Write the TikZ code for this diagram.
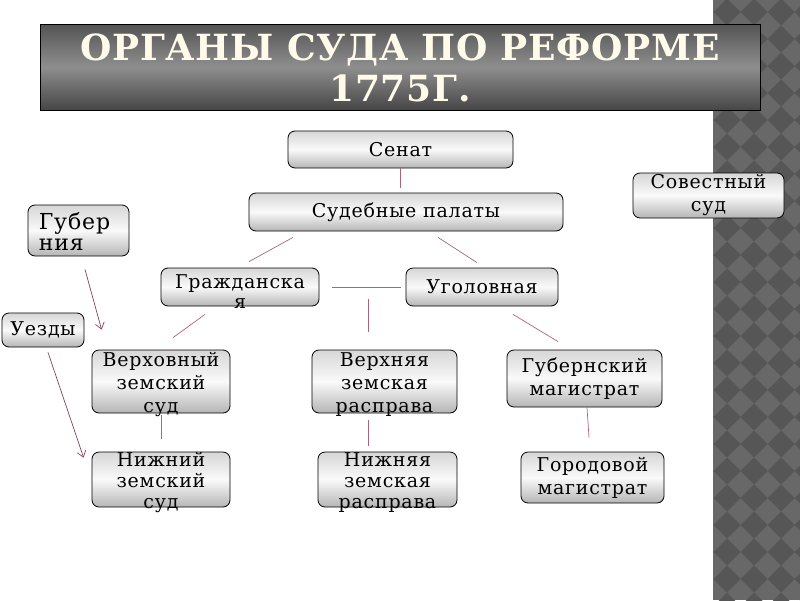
\documentclass[tikz,border=0pt]{standalone}
\usepackage{fontspec}
\setmainfont{DejaVu Serif}
\newfontfamily\boxfont[LetterSpace=4]{DejaVu Serif}
\newfontfamily\headfont[LetterSpace=2]{DejaVu Serif}
\usetikzlibrary{arrows.meta}

\definecolor{stripdark}{RGB}{86,86,86}
\definecolor{striplight}{RGB}{104,104,104}
\definecolor{headtop}{RGB}{84,84,84}
\definecolor{headmid}{RGB}{142,142,142}
\definecolor{headbot}{RGB}{70,70,70}
\definecolor{headink}{RGB}{255,250,234}
\definecolor{linkcol}{RGB}{170,100,125}
\definecolor{hintcol}{RGB}{128,66,98}

\begin{document}
\begin{tikzpicture}[x=1pt,y=-1pt,
  organ/.style={draw=black,line width=.8pt,rounded corners=7pt,
    top color=gray!32,bottom color=gray!58,middle color=gray!4},
  organtext/.style={font=\boxfont\fontsize{19}{23}\selectfont,
    align=center,inner sep=0pt},
  link/.style={draw=linkcol,line width=.7pt},
  hint/.style={draw=hintcol,line width=.7pt,
    -{Straight Barb[length=6pt,width=9pt]}}]
  \useasboundingbox (0,0) rectangle (800,600);

  %% right strip with diamonds
  \fill[striplight] (713,0) rectangle (800,600);
  \begin{scope}
    \clip (713,0) rectangle (800,600);
    \foreach \i in {-1,...,3}
      \foreach \j in {-1,...,22}
        \fill[stripdark] (727+27*\i,12+27*\j) +(-13.5,0) -- +(0,-13.5)
          -- +(13.5,0) -- +(0,13.5) -- cycle;
  \end{scope}

  %% title
  \node[draw=black,line width=1pt,minimum width=720pt,minimum height=86pt,
    top color=headtop,bottom color=headbot,middle color=headmid]
    (headbox) at (400,67) {};
  \node[font=\headfont\bfseries\fontsize{36}{41}\selectfont,text=headink,
    align=center,inner sep=0pt] (head) at ([yshift=-0.5pt]headbox)
    {ОРГАНЫ СУДА ПО РЕФОРМЕ\\1775Г.};

  %% top level
  \node[organ,minimum width=225pt,minimum height=37pt] (senat) at (400.5,149.5) {};
  \node[organtext] (senat-t) at (senat) {Сенат};
  \node[organ,minimum width=314pt,minimum height=38pt] (palaty) at (406,212) {};
  \node[organtext] (palaty-t) at (palaty) {Судебные палаты};
  \node[organ,minimum width=151pt,minimum height=45pt] (sovest) at (708.5,195.5) {};
  \node[organtext] (sovest-t) at (sovest) {Совестный\\суд};

  %% left labels
  \node[organ,minimum width=101pt,minimum height=51pt] (gub) at (78.5,230.5) {};
  \node[organtext,align=left,anchor=west,font=\boxfont\fontsize{22}{21}\selectfont]
    (gub-t) at ([xshift=11pt,yshift=-1pt]gub.west) {Губер\\ния};
  \node[organ,minimum width=82pt,minimum height=34pt] (uezd) at (43,330) {};
  \node[organtext] (uezd-t) at (uezd) {Уезды};

  %% second row
  \node[organ,minimum width=158pt,minimum height=38pt] (grazh) at (240,287) {};
  \node[organtext,font=\boxfont\fontsize{19}{20}\selectfont]
    (grazh-t) at ([yshift=-5pt]grazh) {Гражданска\\я};
  \node[organ,minimum width=152pt,minimum height=38pt] (ugol) at (482,287) {};
  \node[organtext] (ugol-t) at (ugol) {Уголовная};

  %% third row
  \node[organ,minimum width=138pt,minimum height=63pt] (verkhz) at (161,381.5) {};
  \node[organtext] (verkhz-t) at ([yshift=-3pt]verkhz) {Верховный\\земский\\суд};
  \node[organ,minimum width=145pt,minimum height=63pt] (verkhr) at (384.5,381.5) {};
  \node[organtext] (verkhr-t) at ([yshift=-3pt]verkhr) {Верхняя\\земская\\расправа};
  \node[organ,minimum width=155pt,minimum height=57pt] (gubm) at (584.5,378.5) {};
  \node[organtext] (gubm-t) at (gubm) {Губернский\\магистрат};

  %% bottom row
  \node[organ,minimum width=138pt,minimum height=55pt] (nizhz) at (161,479.5) {};
  \node[organtext,font=\boxfont\fontsize{19}{21}\selectfont]
    (nizhz-t) at ([yshift=-3pt]nizhz) {Нижний\\земский\\суд};
  \node[organ,minimum width=139pt,minimum height=55pt] (nizhr) at (387.5,479.5) {};
  \node[organtext,font=\boxfont\fontsize{19}{21}\selectfont]
    (nizhr-t) at ([yshift=-3pt]nizhr) {Нижняя\\земская\\расправа};
  \node[organ,minimum width=143pt,minimum height=51pt] (gorm) at (592.5,477.5) {};
  \node[organtext] (gorm-t) at (gorm) {Городовой\\магистрат};

  %% connectors
  \draw[link] (senat.south) -- ([yshift=5pt]senat.south |- palaty.north);
  \draw[link] ([xshift=-113pt,yshift=-6pt]palaty.south) -- ([xshift=9pt,yshift=6pt]grazh.north);
  \draw[link] ([xshift=32pt,yshift=-6pt]palaty.south) -- ([xshift=-5pt,yshift=5pt]ugol.north);
  \draw[link,shorten <=13pt,shorten >=5pt] (grazh.east) -- (ugol.west);
  \draw[link] ([xshift=-16.5pt,yshift=51pt]verkhr.north) -- ([xshift=-16.5pt,yshift=18pt]verkhr.north);
  \draw[link] ([xshift=-35pt,yshift=-8pt]grazh.south) -- ([xshift=12pt,yshift=12pt]verkhz.north);
  \draw[link] ([xshift=31pt,yshift=-8pt]ugol.south) -- ([xshift=-26.5pt,yshift=8pt]gubm.north);
  \draw[link] ([yshift=-2pt]verkhz.south) -- ([yshift=13pt]nizhz.north);
  \draw[link] ([xshift=-16.5pt,yshift=-7pt]verkhr.south) -- ([xshift=-19.5pt,yshift=6pt]nizhr.north);
  \draw[link] ([xshift=2.5pt]gubm.south) -- ([xshift=-3.5pt,yshift=14pt]gorm.north);

  %% arrows from the left labels
  \draw[hint] ([xshift=6.5pt,yshift=-13pt]gub.south) -- ([xshift=10pt,yshift=20pt]verkhz.north west);
  \draw[hint] ([xshift=5pt,yshift=-5pt]uezd.south) -- ([xshift=-8pt,yshift=-6pt]nizhz.north west);
\end{tikzpicture}
\end{document}
